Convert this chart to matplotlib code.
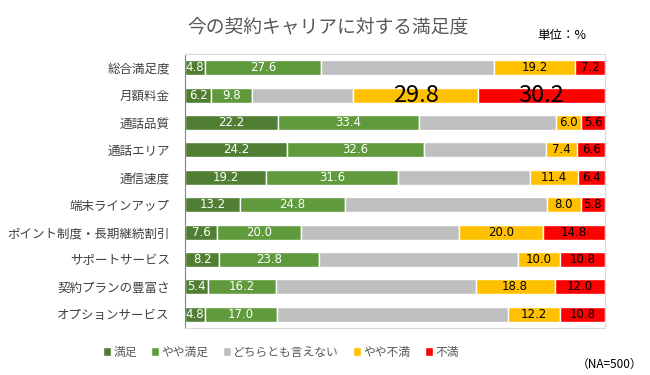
import numpy as np
import matplotlib.pyplot as plt

plt.rcParams['font.family'] = ['Noto Sans CJK JP', 'DejaVu Sans']

cats = ['総合満足度', '月額料金', '通話品質', '通話エリア', '通信速度', '端末ラインアップ',
        'ポイント制度・長期継続割引', 'サポートサービス', '契約プランの豊富さ', 'オプションサービス']
series = ['満足', 'やや満足', 'どちらとも言えない', 'やや不満', '不満']
manzoku = [4.8, 6.2, 22.2, 24.2, 19.2, 13.2, 7.6, 8.2, 5.4, 4.8]
yaya_manzoku = [27.6, 9.8, 33.4, 32.6, 31.6, 24.8, 20.0, 23.8, 16.2, 17.0]
dochira = [41.2, 24.0, 32.8, 29.2, 31.4, 48.2, 37.6, 47.2, 47.6, 55.2]
yaya_fuman = [19.2, 29.8, 6.0, 7.4, 11.4, 8.0, 20.0, 10.0, 18.8, 12.2]
fuman = [7.2, 30.2, 5.6, 6.6, 6.4, 5.8, 14.8, 10.8, 12.0, 10.8]

data = [manzoku, yaya_manzoku, dochira, yaya_fuman, fuman]
colors = ['#507E32', '#5F9A3C', '#BFBFBF', '#FFC000', '#FF0000']
txtcol = ['white', 'white', None, 'black', 'black']

fig = plt.figure(figsize=(6.5, 3.75), dpi=100)
ax = fig.add_axes([0.2846, 0.1253, 0.6462, 0.7307])

y = np.arange(len(cats))
left = np.zeros(len(cats))
for i, vals in enumerate(data):
    vals = np.array(vals)
    ax.barh(y, vals, left=left, height=0.55, color=colors[i], edgecolor='white',
            linewidth=1, label=series[i])
    if txtcol[i]:
        for j, v in enumerate(vals):
            big = cats[j] == '月額料金' and i >= 3
            ax.text(left[j] + v / 2, y[j], f'{v:.1f}', ha='center', va='center',
                    color=txtcol[i], fontsize=17 if big else 8.5,
                    family=['DejaVu Sans'] if not big else ['Noto Sans CJK JP'])
    left += vals

ax.set_xlim(0, 100)
ax.set_ylim(len(cats) - 0.5, -0.5)
ax.set_yticks(y)
ax.set_yticklabels(cats, fontsize=9, color='#404040')
ax.tick_params(axis='y', length=0, pad=11)
ax.set_xticks([])
for s in ['top', 'right', 'bottom']:
    ax.spines[s].set_color('#D9D9D9')
ax.spines['left'].set_color('#808080')

fig.text(0.505, 0.928, '今の契約キャリアに対する満足度', ha='center', va='center',
         fontsize=13.5, color='#595959')
fig.text(0.865, 0.904, '単位：%', ha='center', va='center', fontsize=9, color='black')
fig.text(0.938, 0.029, '（NA=500）', ha='center', va='center', fontsize=8.5, color='black')

leg = fig.legend(loc='center', bbox_to_anchor=(0.432, 0.061), ncol=5, frameon=False,
                 fontsize=8.5, handlelength=0.7, handleheight=0.7, handletextpad=0.2,
                 columnspacing=1.2)
for t in leg.get_texts():
    t.set_color('#595959')

fig.savefig('out.png', dpi=100)
